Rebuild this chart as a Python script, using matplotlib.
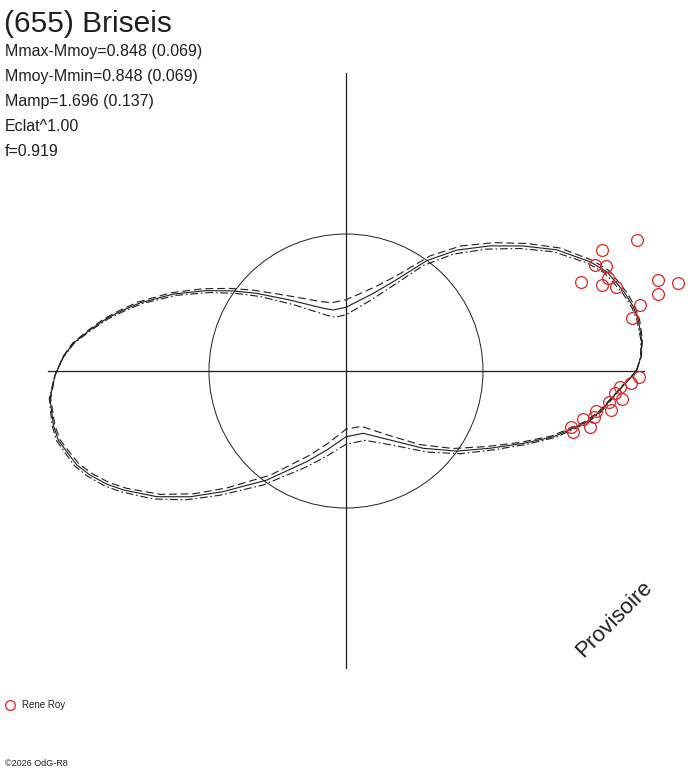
import numpy as np
import matplotlib
matplotlib.use('Agg')
import matplotlib.pyplot as plt
from matplotlib.patches import Circle

plt.rcParams['font.family'] = ['Liberation Sans', 'DejaVu Sans']

# text of the chart
title = "(655) Briseis"
info_lines = ["Mmax-Mmoy=0.848 (0.069)",
              "Mmoy-Mmin=0.848 (0.069)",
              "Mamp=1.696 (0.137)",
              "Eclat^1.00",
              "f=0.919"]
observer = "Rene Roy"
stamp = "Provisoire"
credit = "\u00a92026 OdG-R8"

# model curve: polar angle (deg) and amplitude (unit = reference circle)
model_angle = [0.2, 2.8, 6.0, 9.9, 12.6, 15.6, 18.0, 20.85, 24.1, 29.9,
               35.2, 41.0, 47.5, 53.8, 62.1, 70.6, 90.0, 101.8, 109.9, 128.3,
               139.0, 144.6, 150.0, 156.0, 161.7, 164.7, 167.6, 170.9, 174.2, 177.1,
               180.8, 185.3, 190.5, 193.5, 196.1, 199.2, 202.1, 205.3, 208.1, 213.6,
               218.9, 224.5, 234.0, 246.6, 256.3, 270.0, 285.5, 302.5, 315.0, 324.1,
               331.8, 337.8, 342.4, 345.9, 348.1, 350.9, 354.1, 357.1, 358.5]
model_r = [2.122, 2.156, 2.170, 2.166, 2.149, 2.114, 2.077, 2.036, 1.952, 1.774,
           1.583, 1.392, 1.197, 0.998, 0.738, 0.601, 0.465, 0.455, 0.487, 0.660,
           0.864, 1.009, 1.174, 1.380, 1.584, 1.685, 1.788, 1.893, 2.001, 2.066,
           2.124, 2.170, 2.172, 2.160, 2.122, 2.082, 2.017, 1.932, 1.843, 1.658,
           1.462, 1.256, 0.984, 0.721, 0.594, 0.480, 0.472, 0.597, 0.798, 0.997,
           1.193, 1.398, 1.588, 1.711, 1.796, 1.877, 1.950, 2.027, 2.074]
model_spread = 0.055

# observations (Rene Roy): polar angle (deg) and amplitude
obs_angle = [24.2, 25.3, 23.1, 22.0, 20.7, 18.5, 19.6, 17.3, 16.2, 14.9, 13.8, 12.6, 10.4,
             -1.1, -2.35, -3.4, -4.6, -5.85, -6.65, -8.4, -9.1, -10.5, -11.5, -12.9, -13.9, -15.1]
obs_r = [2.329, 2.064, 1.975, 2.050, 1.833, 1.973, 2.032, 2.066, 2.374, 2.508, 2.347, 2.201, 2.125,
         2.141, 2.084, 2.003, 1.972, 2.025, 1.935, 1.953, 1.846, 1.843, 1.768, 1.827, 1.692, 1.718]

W, H = 688, 768
cx, cy, scale = 346, 371, 137.0
ink = '#1e1e1e'
red = '#e02424'

fig = plt.figure(figsize=(W / 100, H / 100), dpi=100)
ax = fig.add_axes([0, 0, 1, 1])
ax.set_xlim(-cx / scale, (W - cx) / scale)
ax.set_ylim(-(H - cy) / scale, cy / scale)
ax.axis('off')

# cross axes and reference circle
ax.plot([-2.175, 2.175], [0, 0], color=ink, lw=0.9)
ax.plot([0, 0], [-2.168, 2.175], color=ink, lw=0.9)
ax.add_patch(Circle((0, 0), 1.0, fill=False, ec=ink, lw=0.7))

# model curves
th = np.radians(np.array(model_angle + model_angle[:1]))
r = np.array(model_r + model_r[:1])
r_hi = r + model_spread * np.sin(th)
r_lo = r - model_spread * np.sin(th)
ax.plot(r * np.cos(th), r * np.sin(th), color=ink, lw=0.8)
ax.plot(r_hi * np.cos(th), r_hi * np.sin(th), color=ink, lw=0.8, ls=(0, (7, 3.5)))
ax.plot(r_lo * np.cos(th), r_lo * np.sin(th), color=ink, lw=0.8, ls=(0, (7, 2.5, 1.5, 2.5)))

# observations
oth = np.radians(obs_angle)
ax.plot(np.array(obs_r) * np.cos(oth), np.array(obs_r) * np.sin(oth), 'o',
        ms=8.5, mfc='none', mec=red, mew=0.9, ls='none')

# texts
def fx(px):
    return px / W

def fy(py):
    return 1 - py / H

fig.text(fx(4), fy(32), title, fontsize=21.5, color=ink, va='baseline')
for i, line in enumerate(info_lines):
    fig.text(fx(5), fy(56 + 25 * i), line, fontsize=11.5, color=ink, va='baseline')

fig.text(fx(614), fy(619), stamp, fontsize=16, color=ink, rotation=45,
         ha='center', va='center', rotation_mode='anchor')

ax.plot([fx(10)], [fy(705)], 'o', transform=fig.transFigure, ms=7, mfc='none',
        mec=red, mew=0.9, clip_on=False)
fig.text(fx(22), fy(705), observer, fontsize=7, color=ink, va='center')
fig.text(fx(5), fy(763), credit, fontsize=6.5, color=ink, va='center')

fig.savefig('out.png', dpi=100)
